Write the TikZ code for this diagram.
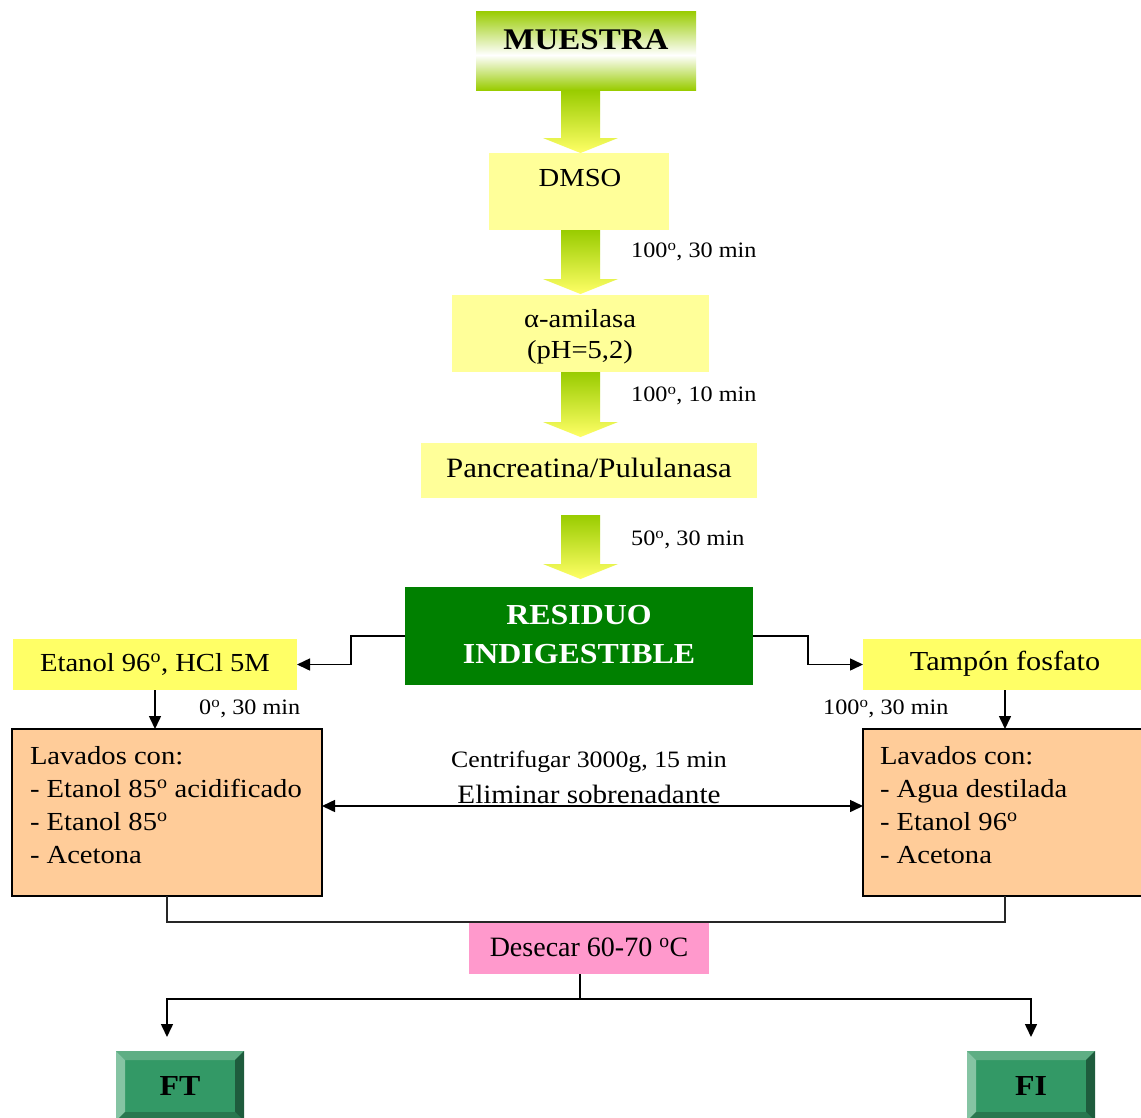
\documentclass[tikz,border=0pt]{standalone}
\usepackage{fontspec}
\setmainfont{Liberation Serif}[FakeStretch=1.1]
\newfontfamily\narrowserif{Liberation Serif}
\usetikzlibrary{arrows.meta,calc}
\definecolor{mgreen}{HTML}{99CC00}
\definecolor{ayellow}{HTML}{FFFF66}
\definecolor{lyellow}{HTML}{FFFF99}
\definecolor{byellow}{HTML}{FFFF66}
\definecolor{dgreen}{HTML}{008000}
\definecolor{peach}{HTML}{FFCC99}
\definecolor{pinkbox}{HTML}{FF99CC}
\definecolor{btnface}{HTML}{339966}
\definecolor{btntop}{HTML}{5FAE84}
\definecolor{btnleft}{HTML}{85C4A3}
\definecolor{btnright}{HTML}{1E5C3D}
\definecolor{btnbottom}{HTML}{29774F}
\newcommand\ordo{\textsuperscript{o}}
\newcommand\blockarr[2]{\shade[top color=mgreen,bottom color=ayellow] (561,#1) -- (600,#1) -- (600,{#2-15}) -- (618,{#2-15}) -- (580.5,#2) -- (543,{#2-15}) -- (561,{#2-15}) -- cycle;}
\newcommand\bevbtn[4]{%
  \fill[btnface] (#1,#2) rectangle ({#1+128},{#2+70});
  \fill[btntop] (#1,#2) -- ({#1+128},#2) -- ({#1+119},{#2+9}) -- ({#1+9},{#2+9}) -- cycle;
  \fill[btnleft] (#1,#2) -- ({#1+9},{#2+9}) -- ({#1+9},{#2+61}) -- (#1,{#2+70}) -- cycle;
  \fill[btnright] ({#1+128},#2) -- ({#1+128},{#2+70}) -- ({#1+119},{#2+61}) -- ({#1+119},{#2+9}) -- cycle;
  \fill[btnbottom] (#1,{#2+70}) -- ({#1+128},{#2+70}) -- ({#1+119},{#2+61}) -- ({#1+9},{#2+61}) -- cycle;
  \node[box, minimum width=128pt, minimum height=70pt, font=\bfseries\fontsize{29}{29}\selectfont] (#3) at (#1,#2) {#4};}
\begin{document}
\begin{tikzpicture}[x=1pt,y=-1pt,
  box/.style={inner sep=0pt,outer sep=0pt,anchor=north west},
  txt/.style={inner sep=0pt,font=\fontsize{26}{33}\selectfont},
  lab/.style={inner sep=0pt,font=\fontsize{22}{26}\selectfont},
  arr/.style={-{Triangle[length=13pt,width=12pt]},line width=1.5pt},
  arrboth/.style={{Triangle[length=13pt,width=12pt]}-{Triangle[length=13pt,width=12pt]},line width=1.5pt},
  conn/.style={line width=1.6pt}]
\clip (0,0) rectangle (1141,1117);
\fill[white] (0,0) rectangle (1141,1117);
% MUESTRA
\shade[top color=mgreen,bottom color=white] (476,11) rectangle (696,55);
\shade[top color=white,bottom color=mgreen] (476,55) rectangle (696,90);
\node[box, minimum width=220pt, minimum height=79pt] (muestra) at (476,11) {};
\node[inner sep=0pt, font=\bfseries\fontsize{30}{30}\selectfont] (muestratxt) at (586,40) {MUESTRA};
% block arrows
\blockarr{90}{153}
\blockarr{230}{294}
\blockarr{372}{437}
\blockarr{515}{579}
% DMSO
\node[box, fill=lyellow, minimum width=180pt, minimum height=77pt] (dmso) at (489,153) {};
\node[txt] (dmsotxt) at (580,178) {DMSO};
\node[lab, anchor=west] (l1) at (631,252) {100\ordo, 30 min};
% alfa-amilasa
\node[box, fill=lyellow, minimum width=257pt, minimum height=77pt] (amil) at (452,295) {};
\node[txt, align=center, font=\fontsize{26}{31}\selectfont] (amiltxt) at (580,337) {α-amilasa\\(pH=5,2)};
\node[lab, anchor=west] (l2) at (631,396) {100\ordo, 10 min};
% Pancreatina
\node[box, fill=lyellow, minimum width=336pt, minimum height=55pt] (panc) at (421,443) {};
\node[txt, font=\fontsize{28}{33}\selectfont] (panctxt) at (589,468) {Pancreatina/Pululanasa};
\node[lab, anchor=west] (l3) at (631,540) {50\ordo, 30 min};
% Residuo
\node[box, fill=dgreen, minimum width=348pt, minimum height=98pt] (res) at (405,587) {};
\node[inner sep=0pt, align=center, text=white, font=\bfseries\fontsize{29}{39}\selectfont] (restxt) at (579,635) {RESIDUO\\INDIGESTIBLE};
% side boxes
\node[box, fill=byellow, minimum width=284pt, minimum height=51pt] (etanol) at (13,639) {};
\node[txt] (etanoltxt) at (155,664) {Etanol 96\ordo, HCl 5M};
\node[box, fill=byellow, minimum width=284pt, minimum height=51pt] (tampon) at (863,639) {};
\node[txt, font=\fontsize{27.5}{33}\selectfont] (tampontxt) at (1005,664) {Tampón fosfato};
\draw[arr] (res.west) -- ++(-54,0) |- (etanol.east);
\draw[arr] (res.east) -- ++(55,0) |- (tampon.west);
% lavados
\node[box, fill=peach, draw=black, line width=2pt, minimum width=310pt, minimum height=167pt] (lavL) at (12,729) {};
\node[txt, box, align=left] (lavLtxt) at (30,746) {Lavados con:\\- Etanol 85\ordo{} acidificado\\- Etanol 85\ordo\\- Acetona};
\node[box, fill=peach, draw=black, line width=2pt, minimum width=284pt, minimum height=167pt] (lavR) at (863,729) {};
\node[txt, box, align=left] (lavRtxt) at (880,746) {Lavados con:\\- Agua destilada\\- Etanol 96\ordo\\- Acetona};
\draw[arr] (etanol.south) -- (etanol.south |- lavL.north);
\draw[arr] (tampon.south) -- (tampon.south |- lavR.north);
\node[lab, anchor=west] (l4) at (199,709) {0\ordo, 30 min};
\node[lab, anchor=west] (l5) at (823,709) {100\ordo, 30 min};
% centrifugar
\draw[arrboth] ($(lavL.east)+(0,-6.5)$) -- ($(lavR.west)+(0,-6.5)$);
\node[lab, font=\fontsize{23.5}{26}\selectfont] (centtxt) at (589,762) {Centrifugar 3000g, 15 min};
\node[txt, font=\fontsize{26.5}{28}\selectfont] (elimtxt) at (589,794) {Eliminar sobrenadante};
% desecar
\node[box, fill=pinkbox, minimum width=240pt, minimum height=52pt] (desecar) at (469,922) {};
\node[inner sep=0pt, font=\narrowserif\fontsize{28}{30}\selectfont] (desecartxt) at (589,947) {Desecar 60-70 \ordo C};
\draw[conn, draw=black!85] (lavL.south) -- ++(0,26) -| (lavR.south);
% buttons
\bevbtn{116}{1051}{ft}{FT}
\bevbtn{967}{1051}{fi}{FI}
\coordinate (dtop) at ($(desecar.south)+(-9,0)$);
\coordinate (split) at ($(desecar.south)+(-9,25)$);
\draw[conn] (dtop) -- (split);
\draw[arr] (split) -| ($(ft.north)+(-13,-14)$);
\draw[arr] (split) -| ($(fi.north)+(0,-14)$);
\end{tikzpicture}
\end{document}
